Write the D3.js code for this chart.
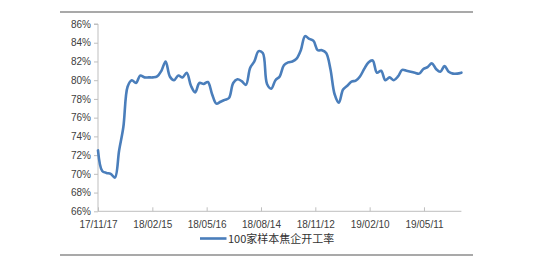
<!DOCTYPE html>
<html><head><meta charset="utf-8">
<script src="https://cdn.jsdelivr.net/npm/d3@7"></script>
<style>body{margin:0;background:#fff;}svg{display:block;}</style>
</head><body>
<svg id="c" width="552" height="269"></svg>
<script>
const startDate = "2017-11-17";
const values = [72.5,70.3,70.1,70.0,69.6,72.5,75.0,79.3,80.0,79.7,
80.5,80.3,80.3,80.3,80.4,81.0,82.0,80.4,80.0,80.5,
80.3,80.8,79.4,78.7,79.7,79.6,79.8,78.5,77.5,77.7,
77.9,78.1,79.7,80.1,79.9,79.5,81.3,82.0,83.1,82.9,
79.6,79.1,80.0,80.4,81.6,81.9,82.0,82.3,83.2,84.7,
84.4,84.2,83.2,83.2,82.9,81.2,78.5,77.6,79.0,79.4,
79.85,79.95,80.4,81.2,81.9,82.1,80.8,81.0,80.0,80.3,
80.0,80.4,81.1,81.0,80.9,80.8,80.7,81.2,81.4,81.8,
81.2,80.9,81.5,80.9,80.7,80.7,80.8];
const tickLabels = ["17/11/17","18/02/15","18/05/16","18/08/14","18/11/12","19/02/10","19/05/11"];
const yTicks = [66,68,70,72,74,76,78,80,82,84,86];
const seriesName = "100家样本焦企开工率";

const parse = d3.timeParse("%Y-%m-%d");
const t0 = parse(startDate);
const data = values.map((v,i)=>({date:d3.timeDay.offset(t0,7*i), v}));
const tickDates = tickLabels.map(s=>d3.timeParse("%y/%m/%d")(s));

const svg = d3.select("#c");
const x = d3.scaleTime().domain([data[0].date, data[data.length-1].date]).range([98,461.4]);
const y = d3.scaleLinear().domain([66,86]).range([211.3,24]);

// frame lines
svg.append("line").attr("x1",60).attr("x2",473).attr("y1",12).attr("y2",12).attr("stroke","#8c8c8c").attr("stroke-width",1.5);
svg.append("line").attr("x1",60).attr("x2",473).attr("y1",255).attr("y2",255).attr("stroke","#8c8c8c").attr("stroke-width",1.5);

// y axis
const yAxis = d3.axisLeft(y).tickValues(yTicks).tickFormat(d=>d+"%").tickSize(4).tickPadding(3);
const gy = svg.append("g").attr("transform","translate(98,0)").call(yAxis);
gy.select(".domain").attr("stroke","#bfbfbf").attr("d","M-4,"+y(86)+"H0V"+y(66));
gy.selectAll(".tick line").attr("stroke","#bfbfbf");
gy.selectAll(".tick text").attr("font-family","Liberation Sans, Arial, sans-serif").attr("font-size","10px").attr("fill","#404040");

// x axis
const xAxis = d3.axisBottom(x).tickValues(tickDates).tickFormat((d,i)=>tickLabels[i]).tickSize(-4).tickPadding(10);
const gx = svg.append("g").attr("transform","translate(0,"+y(66)+")").call(xAxis);
gx.select(".domain").attr("stroke","#bfbfbf").attr("d","M98,0H461.4");
gx.selectAll(".tick line").attr("stroke","#bfbfbf");
gx.selectAll(".tick text").attr("font-family","Liberation Sans, Arial, sans-serif").attr("font-size","10px").attr("fill","#404040");

// line
const line = d3.line().x(d=>x(d.date)).y(d=>y(d.v)).curve(d3.curveCatmullRom.alpha(0.5));
svg.append("path").datum(data).attr("d",line).attr("fill","none").attr("stroke","#4a7ebb").attr("stroke-width",2.6).attr("stroke-linejoin","round").attr("stroke-linecap","round");

// legend
svg.append("line").attr("x1",200).attr("x2",226.5).attr("y1",238.5).attr("y2",238.5).attr("stroke","#4a7ebb").attr("stroke-width",2.6);
svg.append("text").attr("x",228).attr("y",242.5).attr("font-family","Noto Sans CJK SC, sans-serif").attr("font-size","11px").attr("fill","#333").text(seriesName);
</script>
</body></html>
